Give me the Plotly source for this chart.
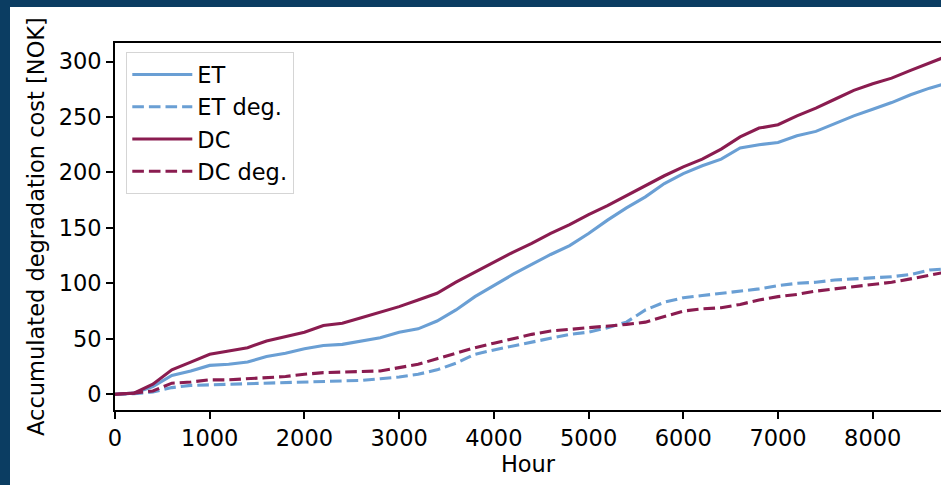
import plotly.graph_objects as go

# ---- data ----
hours = [0, 200, 400, 600, 800, 1000, 1200, 1400, 1600, 1800, 2000, 2200, 2400, 2600,
         2800, 3000, 3200, 3400, 3600, 3800, 4000, 4200, 4400, 4600, 4800, 5000, 5200,
         5400, 5600, 5800, 6000, 6200, 6400, 6600, 6800, 7000, 7200, 7400, 7600, 7800,
         8000, 8200, 8400, 8600, 8760]

et_total = [0, 1, 7, 17, 21, 26, 27, 29, 34, 37, 41, 44, 45, 48, 51, 56, 59, 66, 76, 88,
            98, 108, 117, 126, 134, 145, 157, 168, 178, 190, 199, 206, 212, 222, 225, 227,
            233, 237, 244, 251, 257, 263, 270, 276, 280]

et_deg = [0, 0.5, 2, 6, 8, 8.5, 9, 9, 9.5, 10, 11, 11.5, 12, 12.5, 14, 15.5, 18, 22, 28,
          36, 40, 43.5, 47, 51, 54, 56, 60, 65, 76, 83, 87, 89, 91, 93, 95, 98, 100, 101,
          103, 104, 105, 106, 108, 112, 113]

dc_total = [0, 1, 9, 22, 29, 36, 39, 42, 48, 52, 56, 62, 64, 69, 74, 79, 85, 91, 101, 110,
            119, 128, 136, 145, 153, 162, 170, 179, 188, 197, 205, 212, 221, 232, 240, 243,
            251, 258, 266, 274, 280, 285, 292, 299, 304]

dc_deg = [0, 1, 3, 10, 11, 13, 13, 14, 15, 16, 18, 19.5, 20, 20.5, 21, 24, 27, 32, 37, 42,
          46, 50, 54, 57, 58.5, 59.5, 61, 63, 65, 70, 75, 77, 78, 81, 85, 88, 90, 93, 95,
          97, 99, 101, 104, 107, 110]

x_ticks = [0, 1000, 2000, 3000, 4000, 5000, 6000, 7000, 8000]
y_ticks = [0, 50, 100, 150, 200, 250, 300]

# ---- style ----
ET_COLOR = "#6a9fd4"
DC_COLOR = "#8a1c50"
FRAME = "#0b3d62"
FONT = "DejaVu Sans"
FS = 22.5
LW = 3.1
DASH = "11.6px,5px"

W, H = 941, 485
ML, MR, MT, MB = 115, 0, 43, 75
PW, PH = W - ML - MR, H - MT - MB

fig = go.Figure()
series = [
    ("ET", et_total, ET_COLOR, "solid"),
    ("ET deg.", et_deg, ET_COLOR, DASH),
    ("DC", dc_total, DC_COLOR, "solid"),
    ("DC deg.", dc_deg, DC_COLOR, DASH),
]
for i, (name, vals, col, dash) in enumerate(series):
    fig.add_trace(go.Scatter(
        x=hours, y=vals, name=name, mode="lines",
        line=dict(color=col, width=LW, dash=dash),
        legendgroup=f"g{i}", hoverinfo="skip",
    ))

axis_common = dict(
    showgrid=False, zeroline=False, showline=True, linecolor="black", linewidth=1.6,
    ticks="outside", ticklen=7, tickwidth=1.6, tickcolor="black", automargin=False,
    tickfont=dict(family=FONT, size=FS, color="black"),
)

fig.update_layout(
    width=W, height=H,
    margin=dict(l=ML, r=MR, t=MT, b=MB, autoexpand=False),
    paper_bgcolor="white", plot_bgcolor="white",
    font=dict(family=FONT, size=FS, color="black"),
    xaxis=dict(range=[0, 8721], tickvals=x_ticks, mirror=True,
               title=dict(text="Hour", font=dict(family=FONT, size=FS), standoff=6),
               **axis_common),
    yaxis=dict(range=[-14.2, 316.7], tickvals=y_ticks, mirror=False,
               title=dict(text="Accumulated degradation cost [NOK]",
                          font=dict(family=FONT, size=FS), standoff=8),
               **axis_common),
    legend=dict(x=(126 - ML) / PW, y=(410 - 52) / PH, xanchor="left", yanchor="top",
                bgcolor="rgba(255,255,255,0.8)", bordercolor="#d5d5d5", borderwidth=1.3,
                font=dict(family=FONT, size=FS, color="black"),
                traceorder="grouped", tracegroupgap=0, itemwidth=60),
    showlegend=True,
)

# dark frame strips at top and left edges of the picture
fig.add_shape(type="rect", xref="paper", yref="paper", layer="above",
              x0=-0.3, x1=1.1, y0=(H - MB - 7) / PH, y1=1.3,
              fillcolor=FRAME, line=dict(width=0))
fig.add_shape(type="rect", xref="paper", yref="paper", layer="above",
              x0=-0.3, x1=(10 - ML) / PW, y0=-0.4, y1=1.3,
              fillcolor=FRAME, line=dict(width=0))

fig.write_html("out.html", config={"displayModeBar": False},
               post_script="document.body.style.margin='0';document.body.style.overflow='hidden';")
